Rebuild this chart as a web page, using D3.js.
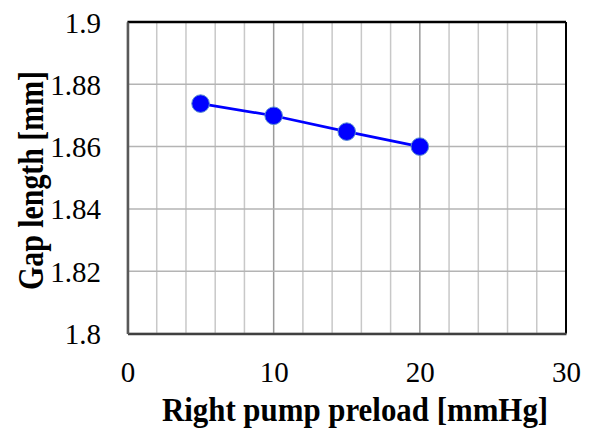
<!DOCTYPE html>
<html>
<head>
<meta charset="utf-8">
<script src="https://cdn.jsdelivr.net/npm/d3@7"></script>
<style>
  body { margin: 0; background: #fff; }
  svg { display: block; }
</style>
</head>
<body>
<svg width="592" height="431"></svg>
<script>
// values
const preload = [5, 10, 15, 20];
const gapLength = [1.8738, 1.8699, 1.8648, 1.86];
const xTicks = [0, 10, 20, 30];
const yTicks = [1.8, 1.82, 1.84, 1.86, 1.88, 1.9];
const xMinor = d3.range(0, 31, 2);

const font = "Liberation Serif";

let svg = d3.select("svg");
let margin = {top: 22, right: 26, bottom: 97.5, left: 127.5};
let width = 592 - margin.left - margin.right;
let height = 431 - margin.top - margin.bottom;
let g = svg.append("g").attr("transform", `translate(${margin.left},${margin.top})`);

let x = d3.scaleLinear().domain([0, 30]).range([0, width]);
let y = d3.scaleLinear().domain([1.8, 1.9]).range([height, 0]);

// vertical gridlines (minor light, major darker)
g.append("g").selectAll("line")
    .data(xMinor)
    .join("line")
    .attr("x1", d => x(d)).attr("x2", d => x(d))
    .attr("y1", 0).attr("y2", height)
    .attr("stroke", d => d % 10 == 0 ? "#9a9a9a" : "#c8c8c8")
    .attr("stroke-width", 1.5);

// horizontal gridlines
g.append("g").selectAll("line")
    .data(yTicks)
    .join("line")
    .attr("x1", 0).attr("x2", width)
    .attr("y1", d => y(d)).attr("y2", d => y(d))
    .attr("stroke", "#b4b4b4")
    .attr("stroke-width", 1.5);

// frame
g.append("line").attr("x1", 0).attr("x2", width).attr("y1", 0).attr("y2", 0)
    .attr("stroke", "#000").attr("stroke-width", 2.5);
g.append("line").attr("x1", width).attr("x2", width).attr("y1", 0).attr("y2", height)
    .attr("stroke", "#000").attr("stroke-width", 2);

// axes
let xAxis = g.append("g")
    .attr("transform", `translate(0,${height})`)
    .call(d3.axisBottom(x).tickValues(xTicks).tickSize(0).tickFormat(d3.format("d")));
xAxis.select(".domain").attr("stroke", "#404040").attr("stroke-width", 2.5);
xAxis.selectAll("text")
    .attr("font-family", font).attr("font-size", 29).attr("fill", "#000")
    .attr("y", 0).attr("dy", null)
    .attr("transform", "translate(0,48)");

let yAxis = g.append("g")
    .call(d3.axisLeft(y).tickValues(yTicks).tickSize(0).tickFormat(d => +d.toFixed(2)));
yAxis.select(".domain").attr("stroke", "#595959").attr("stroke-width", 2.5);
yAxis.selectAll("text")
    .attr("font-family", font).attr("font-size", 29).attr("fill", "#000")
    .attr("x", 0).attr("dy", null)
    .attr("transform", "translate(-26.5,10)");

// axis titles, sized to the lengths measured on the picture
function fitTitle(node, target) {
    let len = node.getComputedTextLength();
    node.setAttribute("font-size", 30 * target / len);
}

let xTitle = svg.append("text")
    .attr("transform", "translate(355,421) scale(1,1.07)")
    .attr("text-anchor", "middle")
    .attr("font-family", font)
    .attr("font-size", 30)
    .attr("font-weight", "bold")
    .text("Right pump preload [mmHg]");
fitTitle(xTitle.node(), 386);

let yTitle = svg.append("text")
    .attr("transform", "translate(43,180.5) rotate(-90) scale(1,1.2)")
    .attr("text-anchor", "middle")
    .attr("font-family", font)
    .attr("font-size", 30)
    .attr("font-weight", "bold")
    .text("Gap length [mm]");
fitTitle(yTitle.node(), 219);

// series
let pts = preload.map((p, i) => [p, gapLength[i]]);
let line = d3.line().x(d => x(d[0])).y(d => y(d[1]));

g.append("path")
    .datum(pts)
    .attr("fill", "none")
    .attr("stroke", "#0000ff")
    .attr("stroke-width", 2.7)
    .attr("d", line);

g.append("g").selectAll("circle")
    .data(pts)
    .join("circle")
    .attr("cx", d => x(d[0]))
    .attr("cy", d => y(d[1]))
    .attr("r", 8.8)
    .attr("fill", "#0000ff")
    .attr("stroke", "#5b8ed0")
    .attr("stroke-width", 1);
</script>
</body>
</html>
